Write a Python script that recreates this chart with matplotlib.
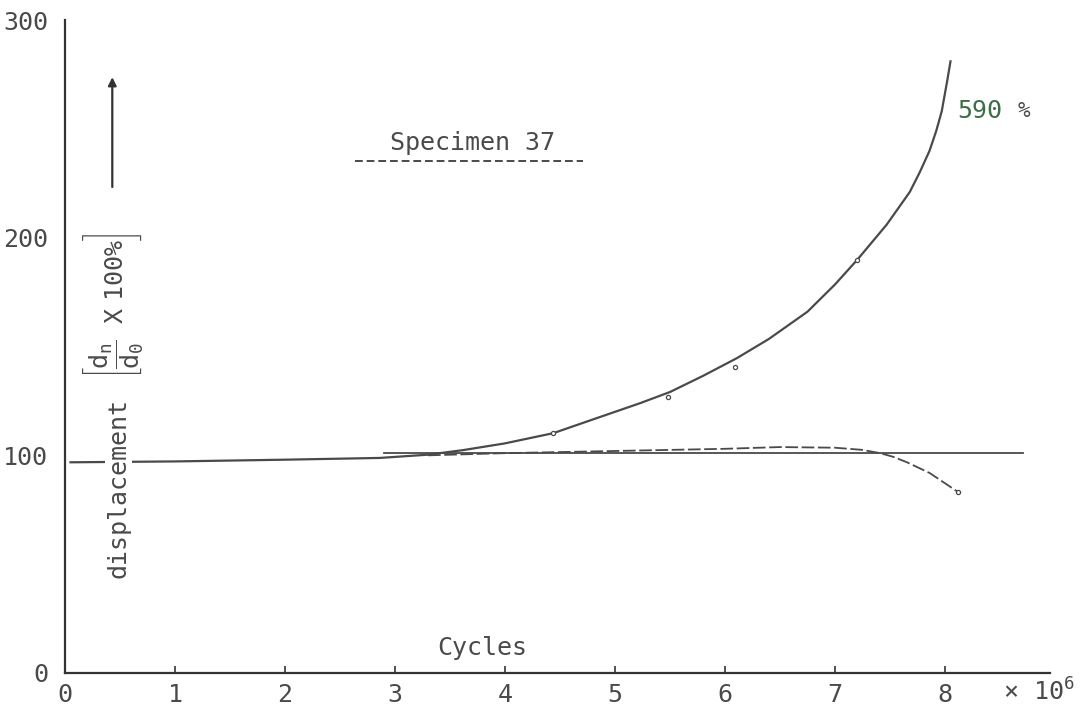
import matplotlib
matplotlib.use("Agg")
import matplotlib.pyplot as plt

plt.rcParams['font.family'] = ['DejaVu Sans Mono', 'DejaVu Sans']
plt.rcParams['mathtext.fontset'] = 'custom'
plt.rcParams['mathtext.rm'] = 'DejaVu Sans Mono'
plt.rcParams['mathtext.it'] = 'DejaVu Sans Mono'

ink = '#4a4a4a'

# cycles (x 10^6) vs displacement (%)
upper_x = [0.05, 1.0, 2.0, 2.86, 3.3, 3.62, 4.0, 4.44, 4.8, 5.23, 5.5, 5.8, 6.11, 6.4,
           6.75, 7.0, 7.2, 7.47, 7.68, 7.77, 7.86, 7.92, 7.97, 8.02, 8.05]
upper_y = [96.8, 97.2, 98.0, 98.8, 100.3, 102.4, 105.5, 110.2, 116.5, 124.0, 129.1, 136.5,
           144.7, 153.5, 166.0, 178.5, 189.7, 206.0, 221.0, 230.0, 240.0, 249.0, 258.0,
           272.0, 281.0]

lower_x = [3.3, 4.0, 4.5, 5.0, 5.5, 6.0, 6.5, 7.0, 7.25, 7.41, 7.53, 7.65, 7.86, 8.12]
lower_y = [100.0, 101.0, 101.5, 102.0, 102.5, 103.0, 103.8, 103.5, 102.5, 101.0, 99.3,
           96.9, 91.9, 83.1]

ref_x = [2.9, 8.71]
ref_y = [101.2, 101.2]

point_x = [4.44, 5.48, 6.09, 7.2, 8.12]
point_y = [110.2, 126.8, 140.6, 189.7, 83.1]

x_ticks = [0, 1, 2, 3, 4, 5, 6, 7, 8]
y_ticks = [0, 100, 200, 300]

fig = plt.figure(figsize=(10.84, 7.09), dpi=100)
ax = fig.add_axes([65 / 1084, 36 / 709, 984.5 / 1084, 653 / 709])

ax.plot(upper_x, upper_y, color=ink, lw=1.6)
ax.plot(lower_x, lower_y, color=ink, lw=1.3, ls=(0, (7, 2)))
ax.plot(ref_x, ref_y, color=ink, lw=1.3)
ax.plot(point_x, point_y, 'o', ms=3, mfc='white', mec=ink, mew=0.9)

ax.set_xlim(0, 8.95)
ax.set_ylim(0, 300)
for s in ['top', 'right']:
    ax.spines[s].set_visible(False)
for s in ['left', 'bottom']:
    ax.spines[s].set_color('#333333')
    ax.spines[s].set_linewidth(1.6)

ax.set_xticks(x_ticks)
ax.set_yticks(y_ticks)
ax.set_yticks([300], minor=True)
ax.tick_params(axis='x', direction='in', length=5, width=1.2, colors='#333333',
               labelcolor=ink, labelsize=18, pad=7)
ax.tick_params(axis='y', length=0, labelcolor=ink, labelsize=18, pad=12)
ax.tick_params(axis='y', which='minor', direction='in', length=6, width=1.4, colors='#333333')

ax.text(8.53, -8.7, '\u00d7 10$^{6}$', fontsize=18, color=ink, ha='left', va='center',
        clip_on=False)
ax.text(3.79, 11.5, 'Cycles', fontsize=18, color=ink, ha='center', va='center')

ax.text(3.7, 238, 'Specimen 37', fontsize=18, color=ink, ha='center', va='bottom')
ax.plot([2.64, 4.71], [235, 235], color=ink, lw=1.4, ls=(0, (4, 2)))

ax.text(8.11, 258, '590', fontsize=18, color='#3d6e45', ha='left', va='center')
ax.text(8.66, 258, '%', fontsize=15, color=ink, ha='left', va='center')

# y label: word + bracket term
ax.text(0.49, 85, 'displacement', rotation=90, fontsize=18, color=ink,
        ha='center', va='center', bbox=dict(fc='white', ec='none', pad=1))
ax.text(0.45, 169, r'$\left[\dfrac{\mathrm{d_n}}{\mathrm{d_0}}\quad\mathrm{X}\;\;100\%\right]$',
        rotation=90, fontsize=18, color=ink, ha='center', va='center')
ax.annotate('', xy=(0.43, 275), xytext=(0.43, 222),
            arrowprops=dict(arrowstyle='-|>', color='#333333', lw=1.6, mutation_scale=12))

fig.savefig('out.png', dpi=100, facecolor='white')
